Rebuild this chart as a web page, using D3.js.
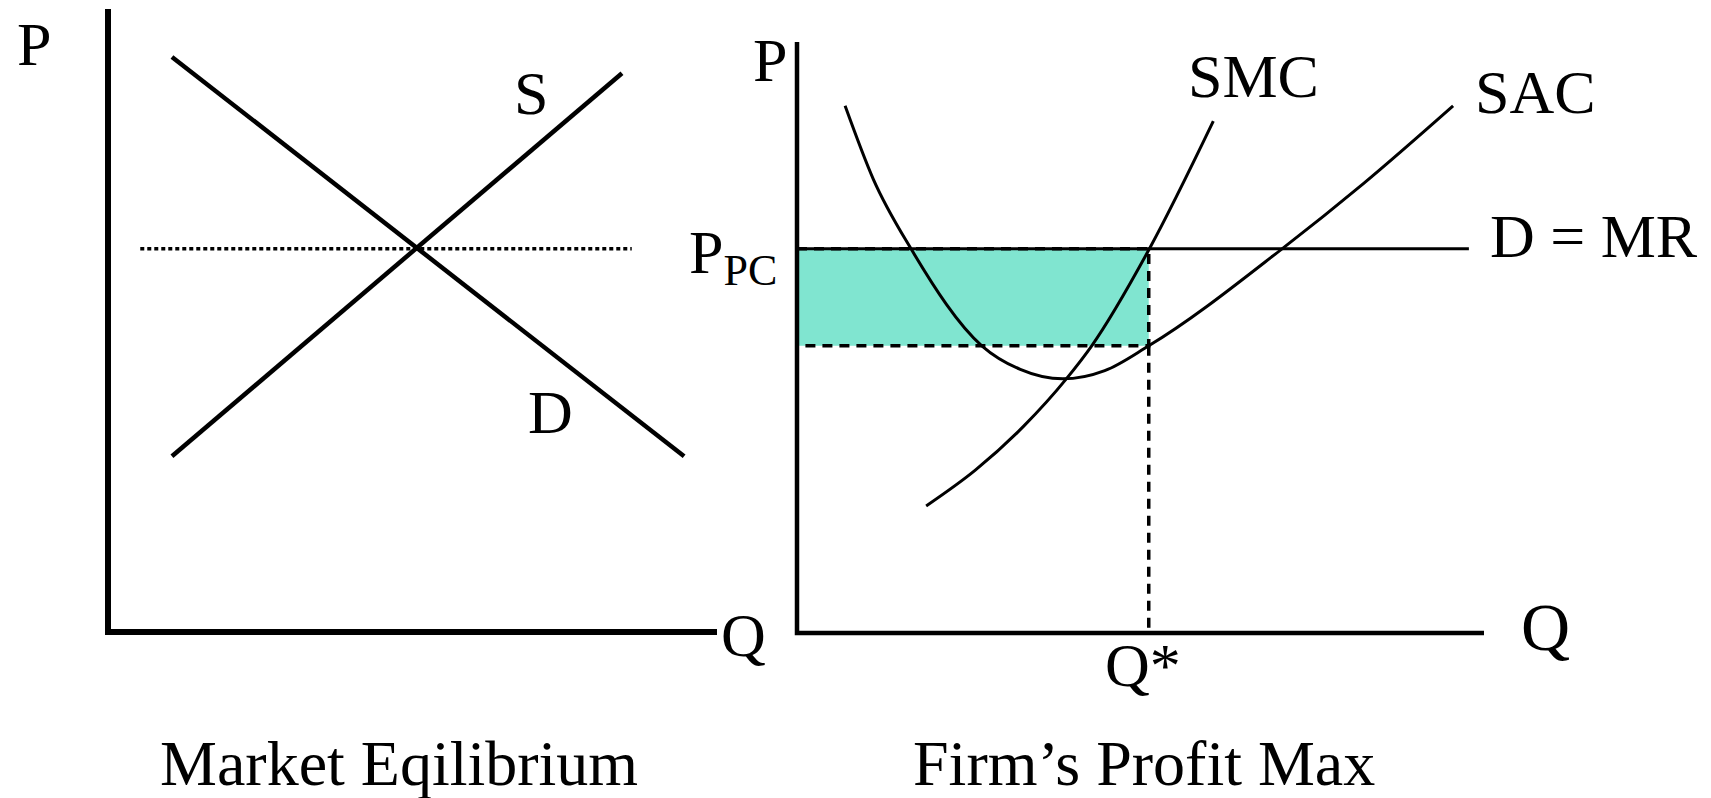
<!DOCTYPE html>
<html>
<head>
<meta charset="utf-8">
<script src="https://cdn.jsdelivr.net/npm/d3@7"></script>
<style>
	body { margin: 0; background: #fff; }
	text { font-family: "Liberation Serif", "Times New Roman", serif; fill: #000; }
</style>
</head>
<body>
<div id="chart"></div>
<script>
// Data (both panels use 0..100 units on each axis)
var marketDemand = [[10.5, 92.3], [94.6, 28.2]];
var marketSupply = [[10.5, 28.2], [84.4, 89.7]];
var marketPrice = 61.5;
var marketPriceSpan = [5.3, 86];

var firmPrice = 65;
var firmQuantity = 51.2;
var firmAvgCost = 48.6;
var firmMRSpan = [0, 97.8];
var sacPoints = [[7.0, 89.2], [11.1, 76.8], [16.6, 65.0], [26.9, 48.6], [32.5, 44.6],
	[38.7, 43.0], [44.8, 44.4], [51.2, 48.6], [70.6, 65.0], [82.4, 76.0], [95.5, 89.2]];
var smcPoints = [[18.8, 21.5], [26.0, 27.6], [33.0, 35.0], [39.2, 43.0], [42.9, 48.6],
	[51.2, 64.8], [60.6, 86.6]];

var titles = ['Market Eqilibrium', 'Firm\u2019s Profit Max'];

// Preliminaries
var width = 1711;
var height = 798;
var fontSize = 62;

// Left panel scales
var xLeft = d3.scaleLinear().domain([0, 100]).range([108, 717]);
var yLeft = d3.scaleLinear().domain([0, 100]).range([632, 9]);

// Right panel scales
var xRight = d3.scaleLinear().domain([0, 100]).range([797, 1484]);
var yRight = d3.scaleLinear().domain([0, 100]).range([633, 42]);

var svg = d3.select('#chart').append('svg')
		.attr('width', width)
		.attr('height', height);

/**
 * Adds a text label.
 */
function label(x, y, str, size) {
	return svg.append('text')
			.attr('x', x)
			.attr('y', y)
			.attr('font-size', size || fontSize)
			.text(str);
}

// ---------- Market equilibrium ----------
var leftLine = d3.line().x(d => xLeft(d[0])).y(d => yLeft(d[1]));

svg.append('line')
		.attr('x1', xLeft(marketPriceSpan[0]))
		.attr('x2', xLeft(marketPriceSpan[1]))
		.attr('y1', yLeft(marketPrice))
		.attr('y2', yLeft(marketPrice))
		.attr('stroke', '#000')
		.attr('stroke-width', 3.5)
		.attr('stroke-dasharray', '4,3');

svg.selectAll('path.market')
		.data([marketDemand, marketSupply])
		.enter()
		.append('path')
		.attr('class', 'market')
		.attr('d', leftLine)
		.attr('fill', 'none')
		.attr('stroke', '#000')
		.attr('stroke-width', 4.5);

// axes
svg.append('path')
		.attr('d', d3.line()([[xLeft(0), yLeft(100)], [xLeft(0), yLeft(0)], [xLeft(100), yLeft(0)]]))
		.attr('fill', 'none')
		.attr('stroke', '#000')
		.attr('stroke-width', 6);

label(17, 65, 'P');
label(721, 656, 'Q');
label(514, 114, 'S');
label(528, 433, 'D');

// ---------- Firm's profit max ----------
var rightLine = d3.line()
		.x(d => xRight(d[0]))
		.y(d => yRight(d[1]))
		.curve(d3.curveMonotoneX);

// profit rectangle
svg.append('rect')
		.attr('x', xRight(0))
		.attr('y', yRight(firmPrice))
		.attr('width', xRight(firmQuantity) - xRight(0))
		.attr('height', yRight(firmAvgCost) - yRight(firmPrice))
		.attr('fill', '#80e5d0')
		.attr('stroke', '#000')
		.attr('stroke-width', 3.5)
		.attr('stroke-dasharray', '10,7');

// dashed drop to Q*
svg.append('line')
		.attr('x1', xRight(firmQuantity))
		.attr('x2', xRight(firmQuantity))
		.attr('y1', yRight(firmAvgCost))
		.attr('y2', yRight(0))
		.attr('stroke', '#000')
		.attr('stroke-width', 3.5)
		.attr('stroke-dasharray', '10,7');

// D = MR
svg.append('line')
		.attr('x1', xRight(firmMRSpan[0]))
		.attr('x2', xRight(firmMRSpan[1]))
		.attr('y1', yRight(firmPrice))
		.attr('y2', yRight(firmPrice))
		.attr('stroke', '#000')
		.attr('stroke-width', 3);

svg.selectAll('path.cost')
		.data([sacPoints, smcPoints])
		.enter()
		.append('path')
		.attr('class', 'cost')
		.attr('d', rightLine)
		.attr('fill', 'none')
		.attr('stroke', '#000')
		.attr('stroke-width', 3);

svg.append('path')
		.attr('d', d3.line()([[xRight(0), yRight(100)], [xRight(0), yRight(0)], [xRight(100), yRight(0)]]))
		.attr('fill', 'none')
		.attr('stroke', '#000')
		.attr('stroke-width', 4.5);

label(753, 81, 'P');
var ppc = label(689, 273, 'P');
ppc.append('tspan')
		.attr('font-size', 44)
		.attr('dy', 12)
		.text('PC');
label(1188, 97, 'SMC');
label(1475, 113, 'SAC');
label(1490, 257, 'D = MR');
label(1521, 650, 'Q', 68);
label(1105, 686, 'Q*');

// titles
label(160, 785, titles[0], 64);
label(913, 785, titles[1], 64);
</script>
</body>
</html>
